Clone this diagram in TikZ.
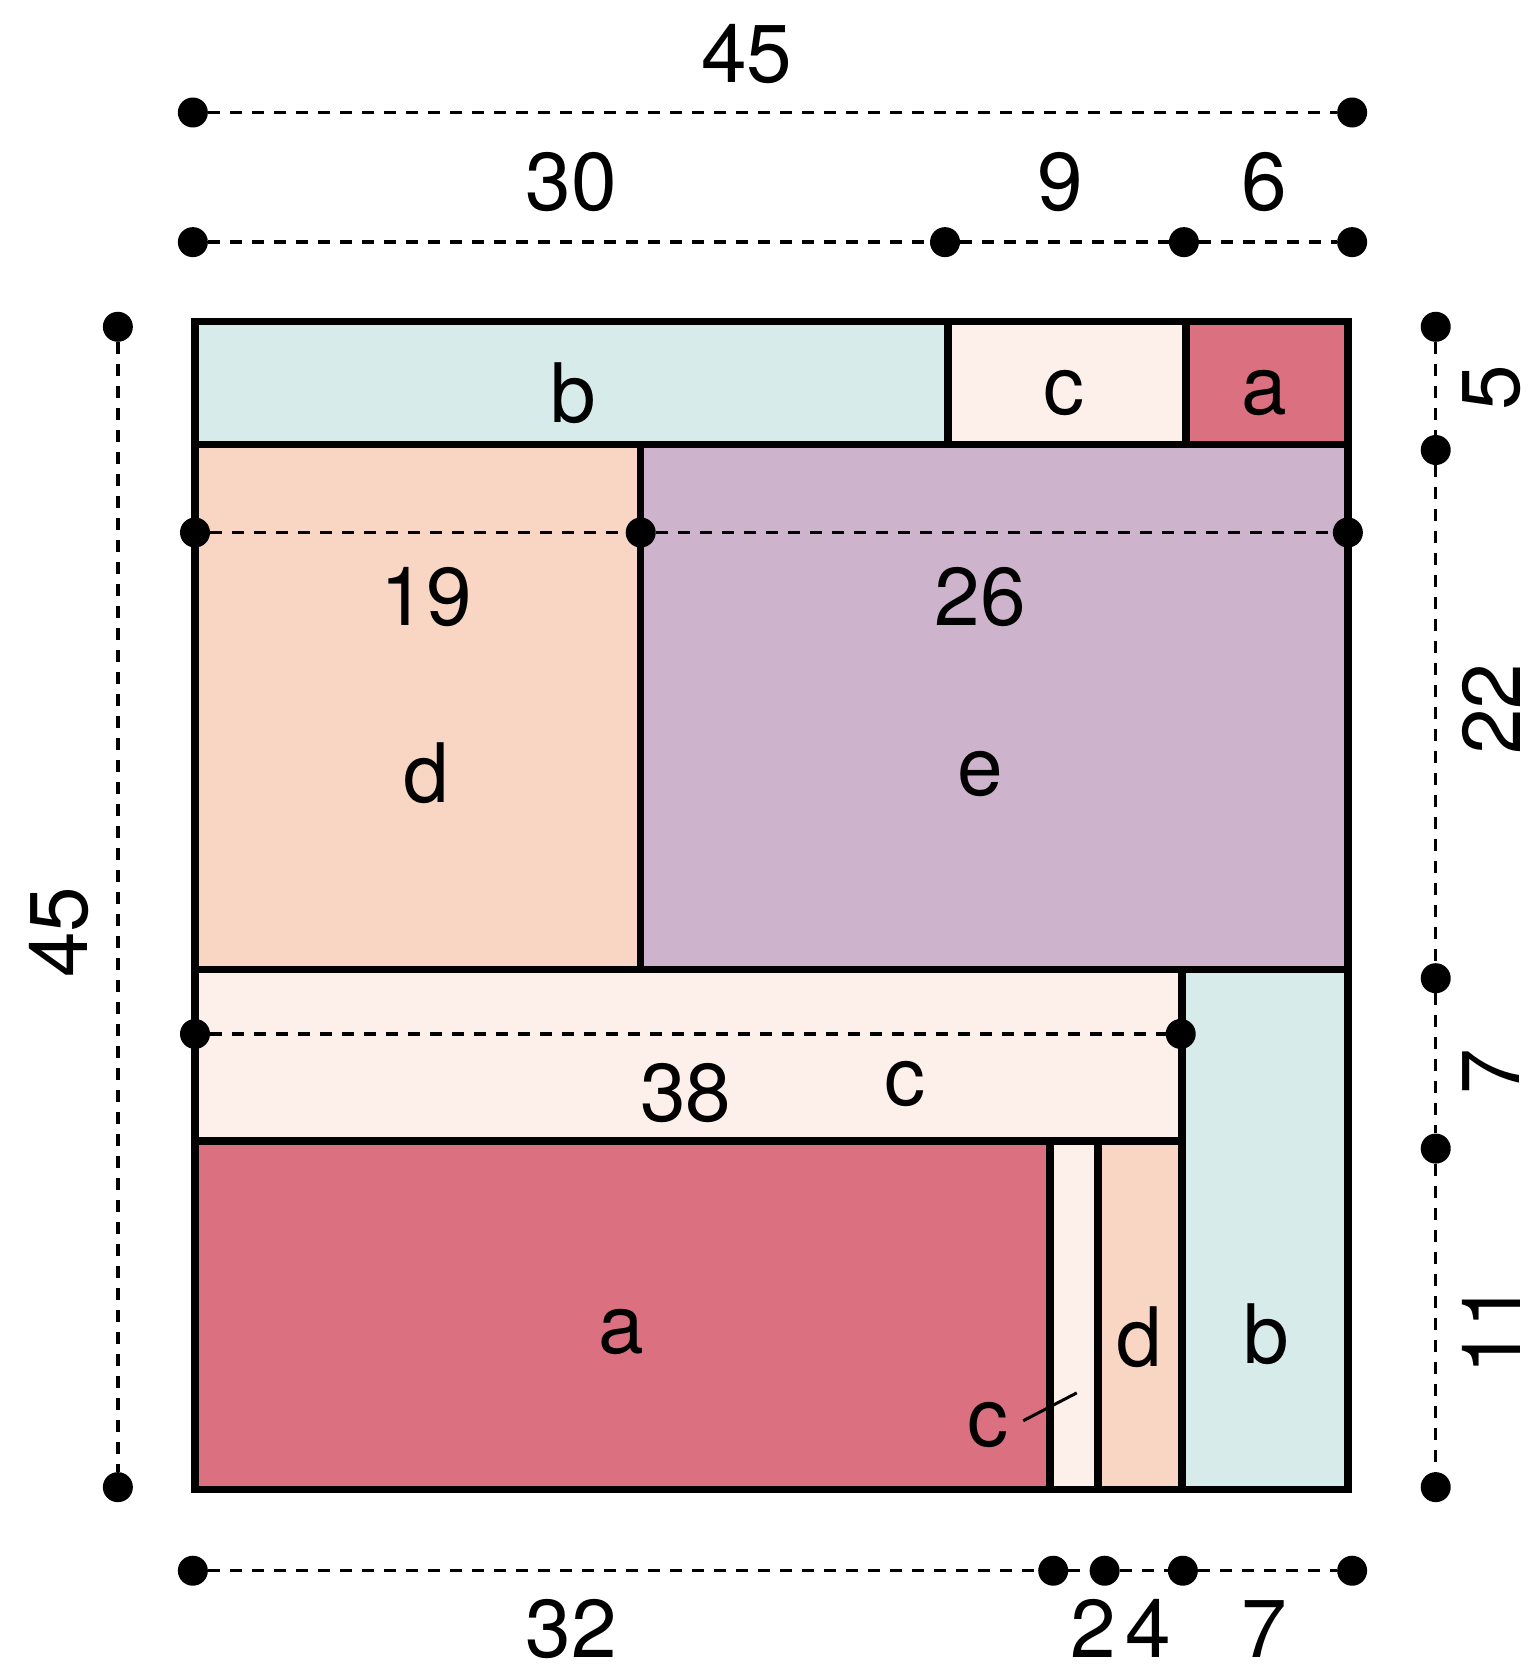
\documentclass[tikz,border=0pt]{standalone}
\usepackage{fontspec}
\setmainfont{TeX Gyre Heros}
\definecolor{colA}{HTML}{DB7080}
\definecolor{colB}{HTML}{D6EBEA}
\definecolor{colC}{HTML}{FDF0EA}
\definecolor{colD}{HTML}{F9D5C4}
\definecolor{colE}{HTML}{CDB3CB}
\tikzset{
  piece/.style={draw=black, line width=7.5pt, line join=miter},
  lbl/.style={font=\fontsize{82}{90}\selectfont, inner sep=0pt, anchor=center},
  dot/.style={circle, fill=black, minimum size=30pt, inner sep=0pt},
  dimline/.style={line width=3.4pt, dash pattern=on 12pt off 10pt},
  leader/.style={line width=3pt}
}
\begin{document}
\begin{tikzpicture}[x=1.0712pt, y=-1.0712pt]
\useasboundingbox (0,0) rectangle (1433,1568);
% pieces
\filldraw[piece, fill=colB] (182,300) rectangle (885,415);
\filldraw[piece, fill=colC] (885,300) rectangle (1107,415);
\filldraw[piece, fill=colA] (1107,300) rectangle (1258,415);
\filldraw[piece, fill=colD] (182,415) rectangle (598,905);
\filldraw[piece, fill=colE] (598,415) rectangle (1258,905);
\filldraw[piece, fill=colC] (182,905) rectangle (1103,1065);
\filldraw[piece, fill=colB] (1103,905) rectangle (1258,1390);
\filldraw[piece, fill=colA] (182,1065) rectangle (980,1390);
\filldraw[piece, fill=colC] (980,1065) rectangle (1025,1390);
\filldraw[piece, fill=colD] (1025,1065) rectangle (1103,1390);
% piece letters
\node[lbl] (lb1) at (535,367) {b};
\node[lbl] (lc1) at (993,367) {c};
\node[lbl] (la1) at (1180,367) {a};
\node[lbl] (ld1) at (398,722) {d};
\node[lbl] (le1) at (915,722) {e};
\node[lbl] (lc2) at (845,1012) {c};
\node[lbl] (la2) at (580,1243) {a};
\node[lbl] (ld2) at (1063,1248) {d};
\node[lbl] (lb2) at (1182,1245) {b};
\node[lbl] (lc3) at (922,1330) {c};
\coordinate (lc3end) at (1005,1300);
\draw[leader] (955,1326) -- (lc3end);
% top dimension 45
\node[dot] (t1) at (180,105) {};
\node[dot] (t2) at (1262,105) {};
\draw[dimline] (t1) -- (t2);
\node[lbl] at (697,50) {45};
% second dimension row
\node[dot] (s1) at (180,226) {};
\node[dot] (s2) at (882,226) {};
\node[dot] (s3) at (1105,226) {};
\node[dot] (s4) at (1262,226) {};
\draw[dimline] (s1) -- (s2) -- (s3) -- (s4);
\node[lbl] at (533,170) {30};
\node[lbl] at (990,170) {9};
\node[lbl] at (1180,170) {6};
% left dimension 45
\node[dot] (l1) at (110,305) {};
\node[dot] (l2) at (110,1388) {};
\draw[dimline] (l1) -- (l2);
\node[lbl, rotate=90] at (55,870) {45};
% right dimensions
\node[dot] (r1) at (1340,305) {};
\node[dot] (r2) at (1340,420) {};
\node[dot] (r3) at (1340,913) {};
\node[dot] (r4) at (1340,1072) {};
\node[dot] (r5) at (1340,1388) {};
\draw[dimline] (r1) -- (r2) -- (r3) -- (r4) -- (r5);
\node[lbl, rotate=90] at (1392,362) {5};
\node[lbl, rotate=90] at (1392,662) {22};
\node[lbl, rotate=90] at (1392,1000) {7};
\node[lbl, rotate=90] at (1392,1240) {11};
% internal 19/26
\node[dot] (m1) at (182,497) {};
\node[dot] (m2) at (598,497) {};
\node[dot] (m3) at (1258,497) {};
\draw[dimline] (m1) -- (m2) -- (m3);
\node[lbl] at (398,557) {19};
\node[lbl] at (915,557) {26};
% internal 38
\node[dot] (n1) at (182,965) {};
\node[dot] (n2) at (1102,965) {};
\draw[dimline] (n1) -- (n2);
\node[lbl] at (640,1020) {38};
% bottom dimensions
\node[dot] (b1) at (180,1466) {};
\node[dot] (b2) at (983,1466) {};
\node[dot] (b3) at (1031,1466) {};
\node[dot] (b4) at (1104,1466) {};
\node[dot] (b5) at (1262,1466) {};
\draw[dimline] (b1) -- (b2) -- (b3) -- (b4) -- (b5);
\node[lbl] at (533,1520) {32};
\node[lbl] at (1020,1520) {2};
\node[lbl] at (1072,1520) {4};
\node[lbl] at (1180,1520) {7};
\end{tikzpicture}
\end{document}
